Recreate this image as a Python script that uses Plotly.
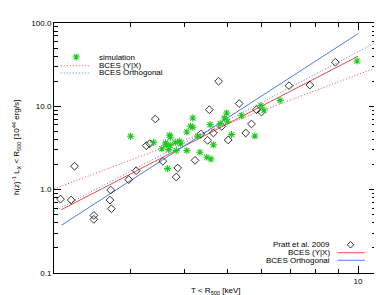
import plotly.graph_objects as go

# ---- data ----
pratt_T = [2.07, 2.19, 2.23, 2.47, 2.47, 2.70, 2.69, 2.71, 2.97, 3.09, 3.26, 3.32, 3.42, 3.56,
           3.85, 3.82, 4.22, 4.35, 4.51, 4.65, 4.55, 4.78, 4.86, 5.03, 5.33, 5.52, 5.69, 5.84,
           6.00, 6.94, 7.75, 8.87]
pratt_L = [0.77, 0.75, 1.91, 0.49, 0.44, 0.99, 0.75, 0.59, 1.32, 1.69, 3.37, 3.56, 7.05, 2.19,
           1.82, 1.42, 2.25, 4.66, 3.91, 4.79, 9.11, 20.0, 5.76, 3.95, 10.8, 4.79, 6.14, 9.11,
           8.55, 17.7, 18.0, 33.8]

sim_T = [3.00, 3.39, 3.54, 3.61, 3.62, 3.69, 3.70, 3.70, 3.67, 3.80, 3.89, 3.91, 3.82, 4.04,
         4.12, 4.17, 4.04, 3.65, 4.17, 4.28, 4.33, 4.49, 4.59, 4.57, 4.65, 4.82, 4.93, 4.99,
         5.01, 5.12, 5.40, 5.79, 5.98, 6.08, 6.62, 9.95]
sim_L = [4.37, 3.70, 3.10, 3.63, 3.46, 4.49, 4.25, 3.41, 3.02, 3.70, 3.81, 3.56, 2.94, 4.92,
         5.76, 7.25, 2.94, 1.79, 5.61, 4.37, 2.81, 2.45, 2.33, 6.02, 3.46, 6.19, 7.25, 8.32,
         6.62, 4.57, 7.72, 4.41, 10.2, 8.97, 11.8, 35.0]

# BCES fit lines (end points)
pratt_yx_T = [2.08, 10.0]
pratt_yx_L = [0.575, 39.9]
pratt_orth_T = [2.08, 10.0]
pratt_orth_L = [0.374, 74.4]
sim_yx_T = [2.0, 11.0]
sim_yx_L = [1.02, 29.0]
sim_orth_T = [2.0, 11.0]
sim_orth_L = [0.55, 58.5]

x_ticks = [10]
x_ticktext = ["10"]
x_minor = [3, 4, 5, 6, 7, 8, 9]
y_ticks = [0.1, 1, 10, 100]
y_ticktext = ["0.1", "1.0", "10.0", "100.0"]
y_minor = [0.2, 0.3, 0.4, 0.5, 0.6, 0.7, 0.8, 0.9, 2, 3, 4, 5, 6, 7, 8, 9,
           20, 30, 40, 50, 60, 70, 80, 90]

RED = "#f04848"
BLUE = "#4a7cf5"
GREEN = "#1ec81e"
FONT = "Liberation Sans, Arial, sans-serif"
DOT = "1px,2px"

sim_marker = dict(symbol="asterisk-open", size=6, color=GREEN,
                  line=dict(width=1.1, color=GREEN))
pratt_marker = dict(symbol="diamond-open", size=6, color="black",
                    line=dict(width=0.8, color="black"))

fig = go.Figure()

fig.add_trace(go.Scatter(x=sim_yx_T, y=sim_yx_L, mode="lines",
                         line=dict(color=RED, width=1, dash=DOT), showlegend=False))
fig.add_trace(go.Scatter(x=sim_orth_T, y=sim_orth_L, mode="lines",
                         line=dict(color=BLUE, width=1, dash=DOT), showlegend=False))
fig.add_trace(go.Scatter(x=pratt_yx_T, y=pratt_yx_L, mode="lines",
                         line=dict(color=RED, width=1), showlegend=False))
fig.add_trace(go.Scatter(x=pratt_orth_T, y=pratt_orth_L, mode="lines",
                         line=dict(color=BLUE, width=1), showlegend=False))
fig.add_trace(go.Scatter(x=pratt_T, y=pratt_L, mode="markers", marker=pratt_marker,
                         showlegend=False))
fig.add_trace(go.Scatter(x=sim_T, y=sim_L, mode="markers", marker=sim_marker,
                         showlegend=False))

# ---- legend glyphs on an invisible overlay (paper-like) axis ----
fig.add_trace(go.Scatter(x=[0.069], y=[0.864], xaxis="x2", yaxis="y2", mode="markers",
                         marker=sim_marker, cliponaxis=False, showlegend=False))
fig.add_trace(go.Scatter(x=[0.921], y=[0.113], xaxis="x2", yaxis="y2", mode="markers",
                         marker=dict(symbol="diamond-open", size=5, color="black",
                                     line=dict(width=0.8, color="black")),
                         cliponaxis=False, showlegend=False))

shapes = [
    dict(type="line", xref="paper", yref="paper", x0=0.021, x1=0.111, y0=0.829, y1=0.829,
         line=dict(color=RED, width=1, dash=DOT)),
    dict(type="line", xref="paper", yref="paper", x0=0.021, x1=0.111, y0=0.800, y1=0.800,
         line=dict(color=BLUE, width=1, dash=DOT)),
    dict(type="line", xref="paper", yref="paper", x0=0.880, x1=0.965, y0=0.081, y1=0.081,
         line=dict(color=RED, width=1)),
    dict(type="line", xref="paper", yref="paper", x0=0.880, x1=0.965, y0=0.051, y1=0.051,
         line=dict(color=BLUE, width=1)),
]

ann_font = dict(family=FONT, size=8, color="black")
annotations = [
    dict(text="simulation", x=0.134, y=0.864, xanchor="left"),
    dict(text="BCES (Y|X)", x=0.134, y=0.829, xanchor="left"),
    dict(text="BCES Orthogonal", x=0.134, y=0.800, xanchor="left"),
    dict(text="Pratt et al. 2009", x=0.863, y=0.113, xanchor="right"),
    dict(text="BCES (Y|X)", x=0.863, y=0.081, xanchor="right"),
    dict(text="BCES Orthogonal", x=0.863, y=0.051, xanchor="right"),
]
for a in annotations:
    a.update(xref="paper", yref="paper", yanchor="middle", showarrow=False, font=ann_font)

annotations.append(dict(text="T &lt; R<sub>500</sub> [keV]", xref="paper", yref="paper",
                        x=0.5, y=-0.072, xanchor="center", yanchor="middle", showarrow=False,
                        font=dict(family=FONT, size=8, color="black")))
annotations.append(dict(text="h(z)<sup>-1</sup> L<sub>X</sub> &lt; R<sub>500</sub> [10<sup>44</sup> erg/s]",
                        xref="paper", yref="paper", x=-0.118, y=0.5, textangle=-90,
                        xanchor="center", yanchor="middle", showarrow=False,
                        font=dict(family=FONT, size=8, color="black")))

axis_common = dict(type="log", showgrid=False, zeroline=False, showline=True,
                   linecolor="black", linewidth=1, mirror="allticks", ticks="inside",
                   tickcolor="black", tickwidth=1,
                   tickfont=dict(family=FONT, size=8, color="black"))

fig.update_layout(
    width=382, height=295,
    margin=dict(l=46, r=14, t=15, b=30),
    paper_bgcolor="white", plot_bgcolor="white",
    showlegend=False,
    shapes=shapes, annotations=annotations,
    xaxis=dict(range=[0.30103, 1.04139], tickvals=x_ticks, ticktext=x_ticktext, ticklen=7,
               minor=dict(tickvals=x_minor, ticks="inside", ticklen=4, tickcolor="black"),
               **axis_common),
    yaxis=dict(range=[-1, 2], tickvals=y_ticks, ticktext=y_ticktext, ticklen=7,
               minor=dict(tickvals=y_minor, ticks="inside", ticklen=4, tickcolor="black"),
               **axis_common),
    xaxis2=dict(range=[0, 1], overlaying="x", visible=False),
    yaxis2=dict(range=[0, 1], overlaying="y", visible=False),
)

fig.write_html("out.html")
